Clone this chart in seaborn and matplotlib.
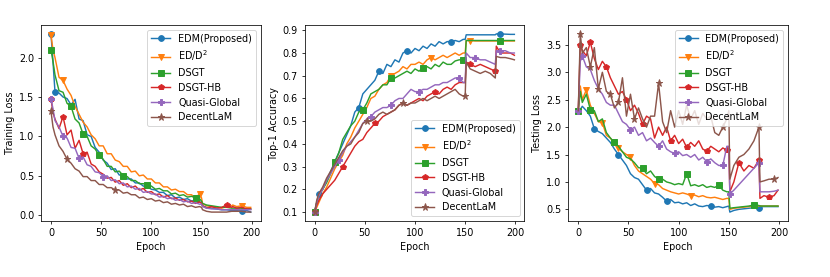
import matplotlib
matplotlib.use("Agg")
import matplotlib.pyplot as plt
import seaborn as sns

epochs = [0, 2, 4, 8, 12, 16, 20, 24, 28, 32,
          36, 40, 44, 48, 52, 56, 60, 64, 68, 72,
          76, 80, 84, 88, 92, 96, 100, 104, 108, 112,
          116, 120, 124, 128, 132, 136, 140, 144, 148,
          150, 151, 155, 160, 165, 170, 175, 180, 181, 185, 190, 195, 199]

methods = ["EDM(Proposed)", "ED/D$^{2}$", "DSGT", "DSGT-HB", "Quasi-Global", "DecentLaM"]
markers = ["o", "v", "s", "p", "P", "*"]

# ---- training loss
train_edm = [2.30, 1.95, 1.56, 1.55, 1.50, 1.48, 1.40, 1.47, 1.22, 1.20,
             1.02, 1.00, 0.86, 0.80, 0.70, 0.66, 0.58, 0.59, 0.51, 0.51,
             0.46, 0.46, 0.41, 0.41, 0.37, 0.36, 0.33, 0.32, 0.29, 0.29,
             0.25, 0.26, 0.22, 0.23, 0.20, 0.21, 0.18, 0.19, 0.17,
             0.16, 0.12, 0.10, 0.09, 0.08, 0.07, 0.07, 0.06, 0.06, 0.06, 0.05, 0.06, 0.04]
train_edd = [2.28, 2.10, 2.00, 1.75, 1.71, 1.60, 1.52, 1.38, 1.28, 1.18,
             1.12, 1.02, 0.97, 0.88, 0.88, 0.78, 0.78, 0.70, 0.68, 0.62,
             0.62, 0.55, 0.56, 0.50, 0.51, 0.46, 0.46, 0.41, 0.41, 0.36,
             0.36, 0.32, 0.33, 0.30, 0.30, 0.26, 0.26, 0.22, 0.27,
             0.22, 0.15, 0.12, 0.11, 0.10, 0.09, 0.11, 0.12, 0.13, 0.11, 0.12, 0.10, 0.10]
train_dsgt = [2.10, 1.95, 1.78, 1.58, 1.56, 1.42, 1.38, 1.22, 1.17, 1.03,
              1.00, 0.88, 0.84, 0.76, 0.71, 0.62, 0.62, 0.55, 0.56, 0.50,
              0.49, 0.44, 0.44, 0.40, 0.40, 0.38, 0.37, 0.33, 0.34, 0.31,
              0.31, 0.27, 0.28, 0.25, 0.26, 0.23, 0.24, 0.22, 0.21,
              0.18, 0.15, 0.13, 0.12, 0.11, 0.10, 0.10, 0.09, 0.09, 0.09, 0.09, 0.08, 0.08]
train_hb = [1.48, 1.30, 1.22, 1.10, 1.25, 1.02, 1.08, 0.85, 0.95, 0.78,
            0.80, 0.65, 0.62, 0.55, 0.52, 0.47, 0.48, 0.42, 0.44, 0.38,
            0.40, 0.35, 0.37, 0.32, 0.34, 0.29, 0.30, 0.26, 0.27, 0.23,
            0.25, 0.21, 0.22, 0.19, 0.20, 0.17, 0.18, 0.15, 0.17,
            0.15, 0.12, 0.09, 0.11, 0.09, 0.10, 0.13, 0.10, 0.11, 0.09, 0.10, 0.08, 0.08]
train_qg = [1.48, 1.35, 1.20, 1.12, 1.00, 0.98, 0.86, 0.85, 0.72, 0.74,
            0.64, 0.62, 0.55, 0.54, 0.49, 0.50, 0.44, 0.45, 0.40, 0.41,
            0.36, 0.37, 0.33, 0.34, 0.29, 0.30, 0.27, 0.27, 0.23, 0.24,
            0.21, 0.22, 0.19, 0.20, 0.17, 0.18, 0.15, 0.16, 0.14,
            0.14, 0.11, 0.09, 0.08, 0.08, 0.07, 0.07, 0.07, 0.07, 0.07, 0.07, 0.07, 0.07]
train_dl = [1.32, 1.12, 1.02, 0.88, 0.81, 0.71, 0.66, 0.59, 0.56, 0.49,
            0.49, 0.44, 0.44, 0.39, 0.39, 0.35, 0.35, 0.32, 0.32, 0.28,
            0.29, 0.26, 0.26, 0.22, 0.23, 0.20, 0.21, 0.18, 0.19, 0.16,
            0.17, 0.14, 0.15, 0.13, 0.14, 0.11, 0.12, 0.10, 0.11,
            0.10, 0.07, 0.05, 0.04, 0.04, 0.04, 0.04, 0.05, 0.05, 0.05, 0.05, 0.04, 0.04]

# ---- top-1 accuracy
acc_edm = [0.10, 0.14, 0.18, 0.20, 0.24, 0.28, 0.32, 0.36, 0.40, 0.44,
           0.48, 0.54, 0.56, 0.62, 0.64, 0.66, 0.68, 0.72, 0.71, 0.75,
           0.74, 0.77, 0.76, 0.80, 0.81, 0.80, 0.82, 0.81, 0.83, 0.82,
           0.84, 0.83, 0.85, 0.84, 0.85, 0.85, 0.855, 0.85, 0.86,
           0.86, 0.88, 0.88, 0.88, 0.88, 0.88, 0.88, 0.88, 0.884, 0.884, 0.883, 0.882, 0.882]
acc_edd = [0.10, 0.12, 0.14, 0.18, 0.21, 0.25, 0.29, 0.32, 0.35, 0.40,
           0.43, 0.47, 0.50, 0.53, 0.56, 0.60, 0.61, 0.64, 0.66, 0.67,
           0.70, 0.71, 0.72, 0.74, 0.73, 0.75, 0.75, 0.76, 0.75, 0.77,
           0.78, 0.77, 0.78, 0.79, 0.78, 0.79, 0.80, 0.79, 0.80,
           0.80, 0.855, 0.855, 0.853, 0.853, 0.853, 0.853, 0.853, 0.853, 0.853, 0.853, 0.853, 0.853]
acc_dsgt = [0.10, 0.14, 0.17, 0.20, 0.23, 0.27, 0.32, 0.36, 0.42, 0.45,
            0.48, 0.50, 0.54, 0.55, 0.58, 0.62, 0.63, 0.64, 0.66, 0.66,
            0.69, 0.69, 0.70, 0.71, 0.72, 0.71, 0.73, 0.72, 0.735, 0.74,
            0.73, 0.75, 0.74, 0.76, 0.75, 0.75, 0.765, 0.77, 0.77,
            0.77, 0.855, 0.855, 0.855, 0.855, 0.855, 0.855, 0.855, 0.855, 0.855, 0.855, 0.855, 0.855]
acc_hb = [0.10, 0.13, 0.15, 0.18, 0.20, 0.22, 0.24, 0.27, 0.30, 0.33,
          0.36, 0.39, 0.41, 0.42, 0.45, 0.47, 0.49, 0.50, 0.52, 0.53,
          0.54, 0.55, 0.57, 0.58, 0.57, 0.58, 0.59, 0.60, 0.59, 0.61,
          0.62, 0.63, 0.62, 0.64, 0.65, 0.64, 0.66, 0.67, 0.67,
          0.67, 0.76, 0.75, 0.74, 0.75, 0.74, 0.73, 0.72, 0.83, 0.80, 0.80, 0.80, 0.79]
acc_qg = [0.10, 0.14, 0.17, 0.20, 0.24, 0.27, 0.30, 0.33, 0.36, 0.39,
          0.41, 0.43, 0.46, 0.49, 0.51, 0.52, 0.54, 0.55, 0.56, 0.56,
          0.57, 0.59, 0.60, 0.60, 0.62, 0.64, 0.63, 0.63, 0.64, 0.64,
          0.65, 0.66, 0.66, 0.67, 0.67, 0.68, 0.69, 0.69, 0.67,
          0.67, 0.80, 0.78, 0.78, 0.77, 0.77, 0.76, 0.75, 0.81, 0.81, 0.81, 0.80, 0.80]
acc_dl = [0.10, 0.15, 0.18, 0.21, 0.25, 0.28, 0.31, 0.34, 0.37, 0.39,
          0.40, 0.43, 0.45, 0.49, 0.50, 0.50, 0.51, 0.53, 0.54, 0.53,
          0.54, 0.55, 0.57, 0.58, 0.57, 0.58, 0.58, 0.59, 0.60, 0.59,
          0.60, 0.61, 0.60, 0.61, 0.62, 0.63, 0.64, 0.62, 0.61,
          0.61, 0.76, 0.73, 0.72, 0.71, 0.72, 0.71, 0.69, 0.785, 0.78, 0.78, 0.775, 0.77]

# ---- testing loss
test_edm = [2.30, 2.32, 2.38, 2.30, 2.20, 1.97, 1.92, 1.88, 1.80, 1.72,
            1.60, 1.50, 1.40, 1.30, 1.15, 1.08, 1.05, 0.95, 0.85, 0.88,
            0.80, 0.78, 0.72, 0.65, 0.68, 0.62, 0.63, 0.60, 0.62, 0.57,
            0.60, 0.56, 0.55, 0.57, 0.56, 0.54, 0.55, 0.53, 0.55,
            0.56, 0.45, 0.48, 0.50, 0.51, 0.52, 0.53, 0.53, 0.55, 0.55, 0.55, 0.55, 0.55]
test_edd = [2.30, 2.75, 2.50, 2.68, 2.40, 2.25, 2.10, 2.08, 1.85, 1.80,
            1.70, 1.62, 1.55, 1.50, 1.45, 1.30, 1.20, 1.15, 1.10, 1.05,
            0.97, 0.95, 0.88, 0.85, 0.82, 0.80, 0.78, 0.80, 0.78, 0.75,
            0.76, 0.73, 0.75, 0.72, 0.71, 0.72, 0.70, 0.68, 0.70,
            0.70, 0.50, 0.52, 0.53, 0.54, 0.55, 0.56, 0.56, 0.56, 0.56, 0.56, 0.56, 0.56]
test_dsgt = [2.30, 2.65, 2.45, 2.60, 2.32, 2.30, 2.10, 2.15, 1.90, 1.80,
             1.72, 1.65, 1.55, 1.45, 1.42, 1.35, 1.26, 1.25, 1.15, 1.20,
             1.10, 1.05, 1.05, 1.00, 0.98, 0.95, 0.97, 0.95, 1.15, 0.93,
             0.95, 0.92, 0.95, 0.90, 0.92, 0.90, 0.94, 0.85, 0.82,
             0.82, 0.52, 0.53, 0.54, 0.55, 0.56, 0.58, 0.57, 0.56, 0.56, 0.56, 0.56, 0.56]
test_hb = [2.30, 3.50, 3.40, 3.30, 3.55, 3.25, 3.05, 3.20, 3.10, 2.90,
           2.75, 2.60, 2.65, 2.50, 2.30, 2.40, 2.25, 2.05, 2.20, 2.15,
           1.80, 2.00, 1.85, 2.00, 1.75, 1.85, 1.70, 1.78, 1.63, 1.72,
           1.65, 1.75, 1.60, 1.56, 1.65, 1.60, 1.55, 1.62, 1.58,
           1.55, 0.82, 1.00, 1.35, 1.20, 1.30, 1.25, 1.40, 0.70, 0.75, 0.72, 0.75, 0.85]
test_qg = [2.30, 3.20, 3.30, 3.10, 3.05, 2.85, 2.70, 2.60, 2.45, 2.40,
           2.40, 2.25, 2.10, 2.05, 1.95, 2.00, 1.85, 1.90, 1.75, 1.80,
           1.72, 1.65, 1.75, 1.60, 1.55, 1.52, 1.55, 1.48, 1.50, 1.45,
           1.50, 1.40, 1.45, 1.37, 1.42, 1.35, 1.30, 1.30, 1.65,
           1.65, 0.78, 0.85, 0.95, 1.05, 1.15, 1.25, 1.35, 0.82, 0.82, 0.82, 0.83, 0.85]
test_dl = [2.30, 3.70, 3.35, 3.45, 3.10, 3.45, 2.70, 3.00, 2.65, 2.60,
           2.35, 2.45, 2.90, 2.20, 2.60, 2.15, 2.35, 2.15, 2.00, 2.20,
           2.20, 2.80, 2.10, 1.90, 2.30, 2.00, 2.30, 2.05, 2.40, 2.15,
           2.30, 2.05, 2.25, 2.15, 2.20, 1.90, 1.85, 2.00, 2.15,
           2.30, 1.05, 1.30, 1.45, 1.50, 1.60, 1.75, 2.00, 1.00, 1.02, 1.05, 1.05, 1.08]

# indices (into epochs) where a marker is drawn
train_marks = [[0, 2, 49], [0, 4, 38, 49], [0, 6, 9, 13, 19, 25, 37],
               [0, 4, 9, 45], [0, 4, 8, 14], [0, 5, 17]]
acc_marks = [[0, 2, 12, 17, 24, 35, 48], [0, 20, 30, 41], [0, 6, 13, 20, 28, 38, 48],
             [0, 8, 16, 31, 41, 46], [0, 7, 15, 20, 27, 37, 42, 48], [0, 14, 23, 39]]
test_marks = [[0, 5, 11, 18, 23, 34, 46], [0, 3, 7, 11, 14, 20, 29],
              [0, 4, 10, 17, 21, 28, 36, 45],
              [1, 4, 8, 13, 17, 24, 28, 33, 38, 42, 46, 49],
              [0, 2, 14, 21, 25, 33, 37, 40, 46],
              [1, 4, 6, 9, 11, 15, 21, 37, 46, 50]]

panels = [
    ("Training Loss", [train_edm, train_edd, train_dsgt, train_hb, train_qg, train_dl],
     train_marks, "upper right", [0.0, 0.5, 1.0, 1.5, 2.0]),
    ("Top-1 Accuracy", [acc_edm, acc_edd, acc_dsgt, acc_hb, acc_qg, acc_dl],
     acc_marks, "lower right", [0.1, 0.2, 0.3, 0.4, 0.5, 0.6, 0.7, 0.8, 0.9]),
    ("Testing Loss", [test_edm, test_edd, test_dsgt, test_hb, test_qg, test_dl],
     test_marks, "upper right", [0.5, 1.0, 1.5, 2.0, 2.5, 3.0, 3.5]),
]

colors = sns.color_palette("tab10", 6)

dpi = 69.1667
fig, axes = plt.subplots(1, 3, figsize=(830 / dpi, 277 / dpi), dpi=dpi)
plt.subplots_adjust(left=41 / 830, right=788 / 830, bottom=1 - 221 / 277,
                    top=1 - 25 / 277, wspace=0.2)

for ax, (ylabel, series, marks, loc, yticks) in zip(axes, panels):
    for name, vals, mk, me, c in zip(methods, series, markers, marks, colors):
        sns.lineplot(x=epochs, y=vals, ax=ax, color=c, label=name, marker=mk,
                     markevery=me, markersize=6 if mk != "*" else 7.5,
                     markeredgecolor=c, markeredgewidth=1, linewidth=1.5)
    ax.set_xlabel("Epoch")
    ax.set_ylabel(ylabel)
    ax.set_xticks([0, 50, 100, 150, 200])
    ax.set_yticks(yticks)
    ax.legend(loc=loc)

plt.savefig("out.png", dpi=dpi)
